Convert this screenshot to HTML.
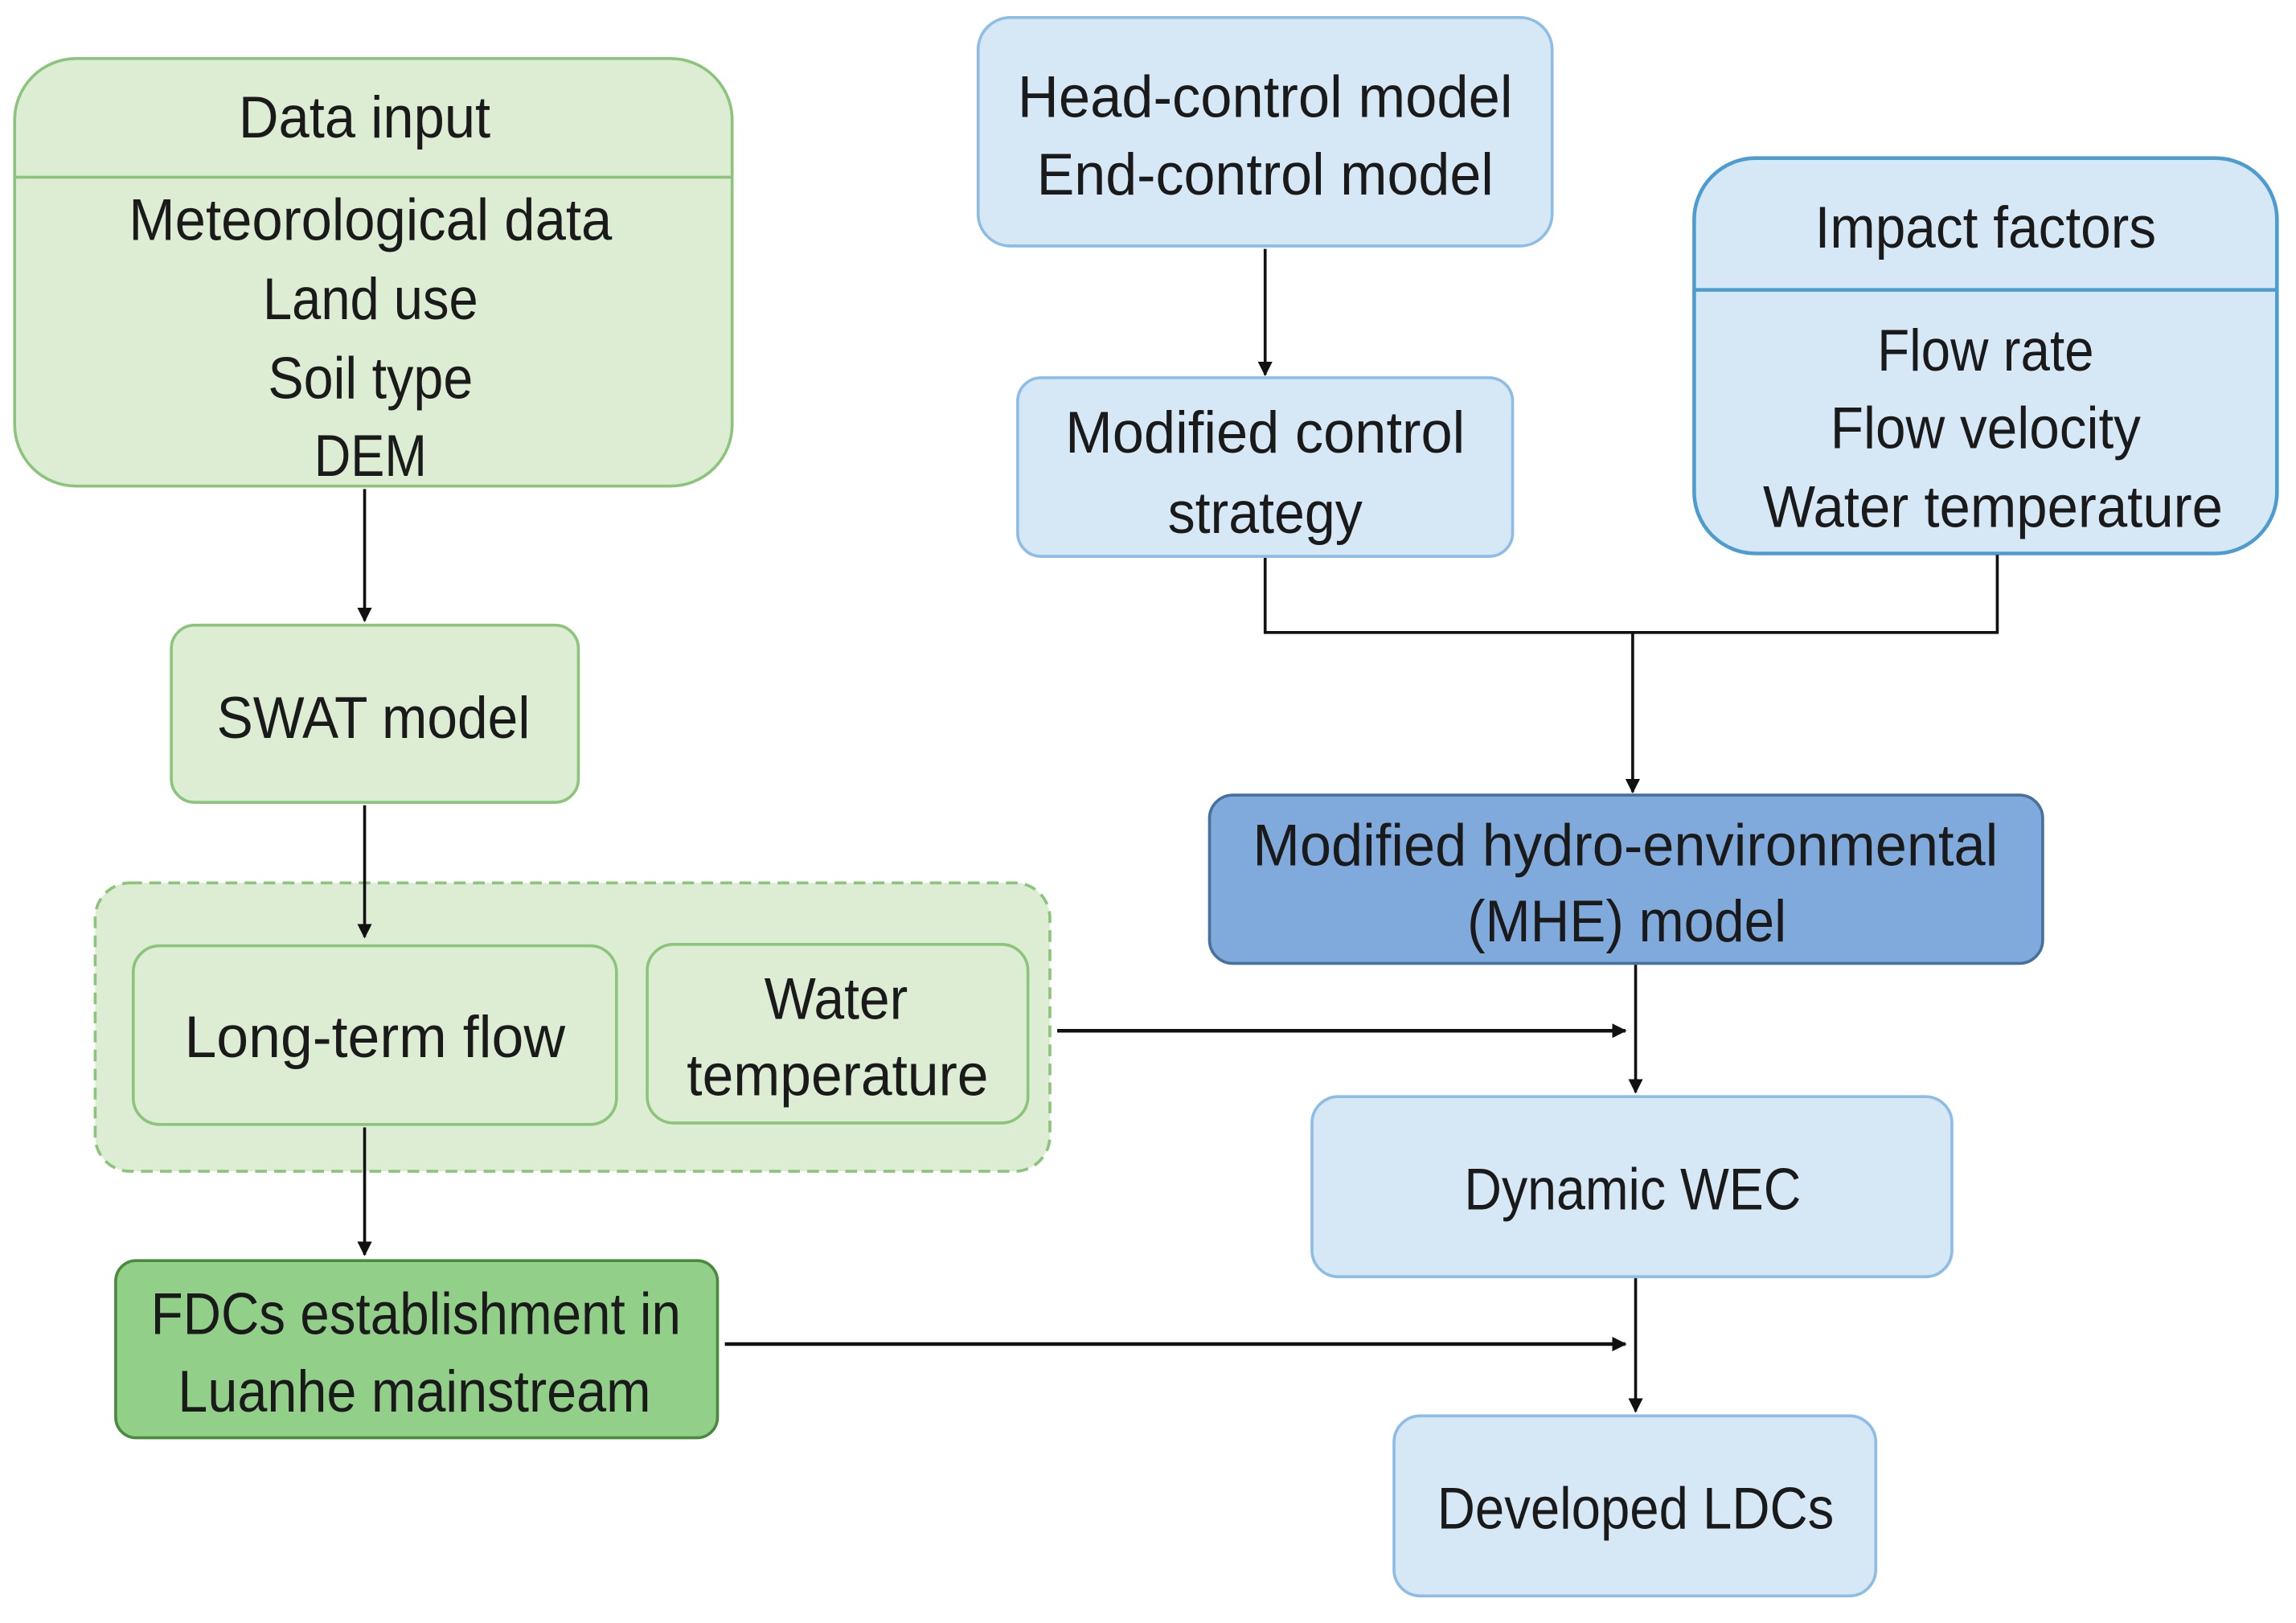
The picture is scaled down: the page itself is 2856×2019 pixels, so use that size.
<!DOCTYPE html>
<html><head><meta charset="utf-8"><style>html,body{margin:0;padding:0;background:#fff}svg{display:block}text{font-family:"Liberation Sans",sans-serif;font-size:40px;fill:#1a1a1a;text-anchor:middle}</style></head><body>
<svg width="2856" height="2019" viewBox="0 0 1568 1108.5" preserveAspectRatio="none" xmlns="http://www.w3.org/2000/svg">
<defs><marker id="a" markerWidth="10" markerHeight="10" refX="9" refY="5" orient="auto" markerUnits="userSpaceOnUse"><path d="M0,0 L10,5 L0,10 z" fill="#111"/></marker></defs>
<g fill="#dcedd4" stroke="#8cc47c" stroke-width="2">
<rect x="10" y="40" width="490" height="292" rx="42"/>
<line x1="10" y1="121" x2="500" y2="121"/>
<rect x="117" y="427" width="278" height="121" rx="16"/>
<rect x="65" y="603" width="652" height="197" rx="24" stroke-dasharray="8,5"/>
<rect x="91" y="646" width="330" height="122" rx="18"/>
<rect x="442" y="645" width="260" height="122" rx="18"/>
</g>
<rect x="79" y="861" width="411" height="121" rx="14" fill="#92d08a" stroke="#4a8a3e" stroke-width="2"/>
<g fill="#d6e8f6" stroke="#8dbde5" stroke-width="2">
<rect x="668" y="12" width="392" height="156" rx="22"/>
<rect x="695" y="258" width="338" height="122" rx="16"/>
<rect x="896" y="749" width="437" height="123" rx="18"/>
<rect x="952" y="967" width="329" height="123" rx="18"/>
</g>
<g fill="#d6e8f6" stroke="#4d9ccf" stroke-width="2.5">
<rect x="1157" y="108" width="398" height="270" rx="42"/>
<line x1="1157" y1="198" x2="1555" y2="198"/>
</g>
<rect x="826" y="543" width="569" height="115" rx="16" fill="#80a9dc" stroke="#46709e" stroke-width="2"/>
<g stroke="#111" stroke-width="2" fill="none">
<line x1="249" y1="334" x2="249" y2="424" marker-end="url(#a)"/>
<line x1="249" y1="550" x2="249" y2="640" marker-end="url(#a)"/>
<line x1="249" y1="770" x2="249" y2="857" marker-end="url(#a)"/>
<line x1="495" y1="918" x2="1110" y2="918" stroke-width="2.5" marker-end="url(#a)"/>
<line x1="722" y1="704" x2="1110" y2="704" stroke-width="2.5" marker-end="url(#a)"/>
<line x1="864" y1="170" x2="864" y2="256" marker-end="url(#a)"/>
<polyline points="864,381 864,432 1364,432 1364,379"/>
<line x1="1115" y1="432" x2="1115" y2="541" marker-end="url(#a)"/>
<line x1="1117" y1="659" x2="1117" y2="746" marker-end="url(#a)"/>
<line x1="1117" y1="873" x2="1117" y2="964" marker-end="url(#a)"/>
</g>
<g>
<text lengthAdjust="spacingAndGlyphs" x="249" y="94" textLength="172">Data input</text>
<text lengthAdjust="spacingAndGlyphs" x="253" y="164" textLength="330">Meteorological data</text>
<text lengthAdjust="spacingAndGlyphs" x="253" y="218" textLength="147">Land use</text>
<text lengthAdjust="spacingAndGlyphs" x="253" y="272" textLength="140">Soil type</text>
<text lengthAdjust="spacingAndGlyphs" x="253" y="325" textLength="77">DEM</text>
<text lengthAdjust="spacingAndGlyphs" x="255" y="504" textLength="214">SWAT model</text>
<text lengthAdjust="spacingAndGlyphs" x="256" y="722" textLength="260">Long-term flow</text>
<text lengthAdjust="spacingAndGlyphs" x="571" y="696" textLength="98">Water</text>
<text lengthAdjust="spacingAndGlyphs" x="572" y="748" textLength="206">temperature</text>
<text lengthAdjust="spacingAndGlyphs" x="284" y="911" textLength="362">FDCs establishment in</text>
<text lengthAdjust="spacingAndGlyphs" x="283" y="964" textLength="323">Luanhe mainstream</text>
<text lengthAdjust="spacingAndGlyphs" x="864" y="80" textLength="338">Head-control model</text>
<text lengthAdjust="spacingAndGlyphs" x="864" y="133" textLength="312">End-control model</text>
<text lengthAdjust="spacingAndGlyphs" x="864" y="309" textLength="273">Modified control</text>
<text lengthAdjust="spacingAndGlyphs" x="864" y="364" textLength="133">strategy</text>
<text lengthAdjust="spacingAndGlyphs" x="1356" y="169" textLength="233">Impact factors</text>
<text lengthAdjust="spacingAndGlyphs" x="1356" y="253" textLength="148">Flow rate</text>
<text lengthAdjust="spacingAndGlyphs" x="1356" y="306" textLength="212">Flow velocity</text>
<text lengthAdjust="spacingAndGlyphs" x="1361" y="360" textLength="314">Water temperature</text>
<text lengthAdjust="spacingAndGlyphs" x="1110" y="591" textLength="509">Modified hydro-environmental</text>
<text lengthAdjust="spacingAndGlyphs" x="1111" y="643" textLength="218">(MHE) model</text>
<text lengthAdjust="spacingAndGlyphs" x="1115" y="826" textLength="230">Dynamic WEC</text>
<text lengthAdjust="spacingAndGlyphs" x="1117" y="1044" textLength="271">Developed LDCs</text>
</g>
</svg>
</body></html>
